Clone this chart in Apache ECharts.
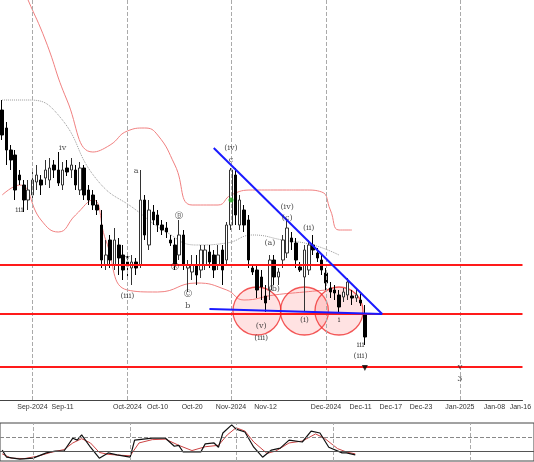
<!DOCTYPE html>
<html><head><meta charset="utf-8">
<script src="https://cdn.jsdelivr.net/npm/echarts@6/dist/echarts.min.js"></script>
<style>html,body{margin:0;background:#fff}#c{width:534px;height:462px}</style>
</head><body><div id="c"></div>
<script>
// 价格按图上读数（像素深度），下面统一换算
const SLOTS = 121;
// [open, close, low, high]
const candles = [
  [110,135,140,100],[128,150,165,122],[150,160,170,145],[155,190,200,150],[175,180,185,170],
  [185,200,212,180],[200,190,210,180],[195,180,200,172],[182,175,190,165],[180,185,195,175],
  [178,170,185,160],[180,168,188,158],[165,170,178,160],[170,183,186,152],[185,170,190,162],
  [168,172,176,160],[170,165,178,158],[170,185,190,165],[190,168,195,162],[168,195,200,165],
  [190,200,205,185],[195,205,210,190],[205,210,215,200],[225,260,268,210],[265,255,270,240],
  [240,260,268,235],[265,240,270,228],[245,258,275,238],[255,270,280,245],[262,266,280,255],
  [268,262,285,255],[262,268,275,258],[265,200,268,170],[200,235,240,195],[245,210,250,200],
  [212,220,225,205],[215,225,232,210],[225,230,235,220],[228,232,238,222],[240,243,246,235],
  [245,265,270,238],[255,235,260,220],[235,265,270,230],[268,265,292,260],[272,265,280,255],
  [265,275,285,255],[270,250,278,245],[265,250,270,245],[252,262,268,245],[255,270,278,250],
  [265,255,270,245],[250,270,285,245],[260,225,265,222],[225,170,230,168],[175,215,225,168],
  [225,200,230,195],[210,225,232,205],[220,260,268,215],[268,272,275,265],[270,290,298,265],
  [277,287,300,270],[296,303,312,285],[290,260,300,255],[260,277,285,255],[277,272,285,268],
  [260,240,268,235],[253,228,258,220],[238,242,250,232],[243,260,268,238],[267,270,272,262],
  [277,250,312,245],[270,245,275,240],[245,250,255,235],[253,258,262,248],[260,270,275,255],
  [273,283,290,268],[288,292,298,282],[290,293,300,285],[295,307,312,290],[297,292,302,288],
  [295,282,300,278],[296,298,305,290],[298,295,302,288],[300,303,306,294],[315,337,345,305]
];
const upperBand = [[0,-60],[6,0],[10,40],[15,100],[21,152],[25,145],[29,131],[33,128],[36,135],[40,165],[44,205],[50,205],[53,195],[58,190],[65,190],[70,190],[74,192],[76,210],[78,230],[81,230]];
const lowerBand = [[0,195],[4,185],[9,220],[13,232],[17,215],[21,200],[24,240],[29,290],[36,292],[45,283],[52,290],[56,300],[63,295],[70,292],[75,290]];
const midBand = [[0,100],[6,100],[13,115],[22,180],[31,210],[38,232],[45,245],[52,243],[58,235],[65,240],[72,245],[78,255]];
const levels = [265,314,367];
const trendTop = [[49,148],[88,314]];
const trendBase = [[48,309],[88,314]];
const zones = [[59,311],[70,311],[78,311]];
const waveLabels = [
  [4,210,'iii'],[14,148,'iv'],[29,258,'v'],[29,296,'(iii)'],[31,171,'a'],[41,216,'Ⓑ'],[40,267,'Ⓐ'],
  [43,294,'Ⓒ'],[43,306,'b'],[53,148,'(iv)'],[53,160,'c'],[66,207,'(iv)'],[66,218,'(c)'],[71,228,'(ii)'],
  [62,243,'(a)'],[63,289,'(b)'],[60,326,'(v)'],[60,338,'(iii)'],[70,320,'(i)'],[78,320,'i'],[83,345,'iii'],[83,356,'(iii)'],
  [106,367,'v'],[106,379,'3']
];
const dateLabels = {7:'Sep-2024',14:'Sep-11',29:'Oct-2024',36:'Oct-10',44:'Oct-20',53:'Nov-2024',61:'Nov-12',75:'Dec-2024',83:'Dec-11',90:'Dec-17',97:'Dec-23',106:'Jan-2025',114:'Jan-08',120:'Jan-16'};
const monthStarts = [7,29,53,75,106];
const stochMain = [[0,23],[1,8],[4,4],[7,6],[10,17],[12,21],[14,21],[16,48],[17,44],[18,55],[20,29],[22,6],[24,17],[26,13],[29,8],[30,44],[34,48],[37,48],[39,31],[40,33],[41,19],[45,19],[46,36],[48,38],[49,29],[50,59],[52,76],[53,67],[55,61],[57,29],[59,8],[61,23],[63,27],[65,44],[68,40],[70,63],[72,59],[74,29],[77,17],[78,17],[80,13]];
const stochSignal = [[0,15],[2,6],[5,5],[8,10],[11,18],[14,24],[16,38],[18,47],[20,38],[22,18],[24,14],[27,12],[29,11],[31,38],[34,45],[37,46],[40,33],[43,22],[46,30],[49,33],[51,55],[53,70],[55,63],[57,40],[60,16],[62,21],[65,38],[68,42],[71,57],[73,48],[76,26],[78,19],[80,15]];

const price = y => 1200 - y;
const cats = Array.from({length: SLOTS}, (_, i) => String(i));
const pts = a => a.map(p => [p[0], price(p[1])]);

const chart = echarts.init(document.getElementById('c'));
chart.setOption({
  animation: false,
  grid: [
    {left: 0, right: 0, top: 0, height: 400},
    {left: 0, right: 0, top: 423, height: 38, show: true, borderColor: '#444', borderWidth: 1}
  ],
  xAxis: [
    {type: 'category', data: cats, gridIndex: 0, boundaryGap: true,
     axisLine: {lineStyle: {color: '#444'}},
     axisTick: {length: 3, interval: i => i in dateLabels, alignWithLabel: true, lineStyle: {color: '#444'}},
     axisLabel: {interval: i => i in dateLabels, formatter: v => dateLabels[v] || '', fontSize: 7, color: '#333', margin: 4, fontFamily: 'Liberation Sans'},
     splitLine: {show: false}},
    {type: 'category', data: cats, gridIndex: 1, axisLine: {show: false}, axisTick: {show: false}, axisLabel: {show: false}}
  ],
  yAxis: [
    {type: 'value', gridIndex: 0, min: price(400), max: price(0), show: false},
    {type: 'value', gridIndex: 1, min: 0, max: 80, show: false}
  ],
  series: [
    {type: 'line', data: [], markLine: {silent: true, symbol: 'none', label: {show: false},
      lineStyle: {color: '#aaa', type: 'dashed', width: 1},
      data: monthStarts.map(i => ({xAxis: i}))}},
    {type: 'line', xAxisIndex: 1, yAxisIndex: 1, data: [], markLine: {silent: true, symbol: 'none', label: {show: false},
      data: [
        ...monthStarts.map(i => ({xAxis: i, lineStyle: {color: '#aaa', type: 'dashed', width: 1}})),
        {yAxis: 50, lineStyle: {color: '#888', type: 'dashed', width: 1}},
        {yAxis: 20, lineStyle: {color: '#555', type: 'solid', width: 1}}
      ]}},
    {type: 'line', data: pts(upperBand), smooth: true, symbol: 'none', lineStyle: {color: '#f08080', width: 1}},
    {type: 'line', data: pts(lowerBand), smooth: true, symbol: 'none', lineStyle: {color: '#f08080', width: 1}},
    {type: 'line', data: pts(midBand), smooth: true, symbol: 'none', lineStyle: {color: '#999', width: 1, type: 'dotted'}},
    {type: 'scatter', data: pts(zones), symbolSize: 48, z: 3,
     itemStyle: {color: 'rgba(255,110,110,0.25)', borderColor: '#f03030', borderWidth: 1.3}},
    {type: 'candlestick', data: candles.map(c => c.map(price)), barWidth: 3, z: 4,
     itemStyle: {color: '#fff', color0: '#000', borderColor: '#333', borderColor0: '#000', borderWidth: 1}},
    {type: 'line', data: [], markLine: {silent: true, symbol: 'none', label: {show: false},
      lineStyle: {color: '#ff1a1a', type: 'solid', width: 2},
      data: levels.map(y => ({yAxis: price(y)}))}},
    {type: 'line', data: pts(trendTop), symbol: 'none', z: 5, lineStyle: {color: '#1a1aff', width: 2}},
    {type: 'line', data: pts(trendBase), symbol: 'none', z: 5, lineStyle: {color: '#1a1aff', width: 2}},
    {type: 'scatter', data: [[53, price(200)]], symbolSize: 5, itemStyle: {color: '#2a2'}, z: 6},
    {type: 'scatter', data: [[84, price(368)]], symbol: 'triangle', symbolRotate: 180, symbolSize: 6, itemStyle: {color: '#000'}, z: 6},
    {type: 'scatter', data: waveLabels.map(l => [l[0], price(l[1]), l[2]]), symbolSize: 0, z: 7,
     label: {show: true, position: 'inside', formatter: p => p.data[2], fontSize: 8, fontFamily: 'DejaVu Serif', color: '#222'}},
    {type: 'line', xAxisIndex: 1, yAxisIndex: 1, data: stochSignal, symbol: 'none', lineStyle: {color: '#c44', width: 1}},
    {type: 'line', xAxisIndex: 1, yAxisIndex: 1, data: stochMain, symbol: 'none', lineStyle: {color: '#111', width: 1.2}}
  ]
});
</script></body></html>
